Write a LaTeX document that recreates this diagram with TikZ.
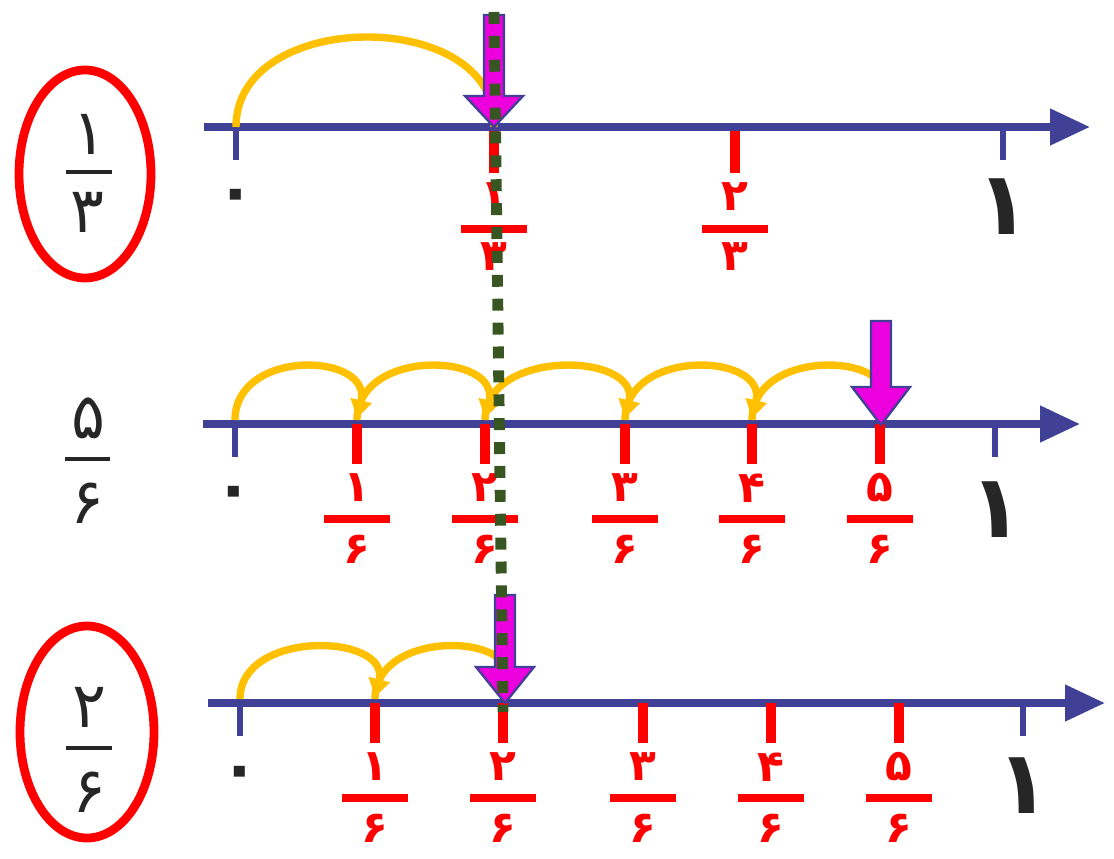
\documentclass[tikz,border=0pt]{standalone}
\usepackage{fontspec}
\newfontfamily\fafont[Script=Arabic]{DejaVu Sans}
\usepackage{tikz}
\usetikzlibrary{arrows.meta}
\definecolor{axisblue}{RGB}{64,64,150}
\definecolor{jumpyellow}{RGB}{255,192,0}
\definecolor{markred}{RGB}{255,0,0}
\definecolor{pointmag}{RGB}{236,0,222}
\definecolor{guidegreen}{RGB}{56,86,34}

\begin{document}
\begin{tikzpicture}[x=0.02cm, y=-0.02cm,
  axis/.style={draw=axisblue, line width=4.4pt, -{Triangle[length=8mm, width=7mm]}},
  endtick/.style={draw=axisblue, line width=3.8pt},
  redtick/.style={draw=markred, line width=6pt},
  fracbar/.style={draw=markred, line width=4pt},
  blackbar/.style={draw=black!85, line width=1.8pt},
  jump/.style={draw=jumpyellow, line width=4.2pt, -{Triangle[length=3.6mm, width=4.2mm]}},
  pointer/.style={fill=pointmag, draw=axisblue, line width=1.3pt},
  ring/.style={draw=markred, line width=5pt},
  guide/.style={draw=guidegreen, line width=6.2pt, dash pattern=on 6.8pt off 6.8pt},
  rednum/.style={text=markred, inner sep=0pt, font=\fafont\bfseries\fontsize{25}{25}\selectfont},
  leftnum/.style={text=black!85, inner sep=0pt, font=\fafont\fontsize{36}{36}\selectfont},
  zeronum/.style={text=black!85, inner sep=0pt, font=\fafont\bfseries\fontsize{36}{36}\selectfont},
  endnum/.style={text=black!85, inner sep=0pt, font=\fafont\bfseries\fontsize{50}{50}\selectfont}]
\useasboundingbox (0,0) rectangle (1114,858);
\def\ya{127}\def\yb{424}\def\yc{703}
% number lines
\draw[axis] (204,\ya) -- (1090,\ya);
\draw[axis] (203,\yb) -- (1080,\yb);
\draw[axis] (208,\yc) -- (1105,\yc);
\foreach \xx/\yy in {236/\ya,1003/\ya,235/\yb,995/\yb,240/\yc,1023/\yc}
  \draw[endtick] (\xx,\yy) -- (\xx,\yy+33);
\node[zeronum] (zero-a) at (236,201) {۰};
\node[zeronum] (zero-b) at (234,498) {۰};
\node[zeronum] (zero-c) at (240,778) {۰};
\node[endnum] (one-a) at (1003,207) {۱};
\node[endnum] (one-b) at (996,510) {۱};
\node[endnum] (one-c) at (1023,786) {۱};
% jumps
\draw[jump, -] (236,\ya) .. controls (236,\ya-120) and (500,\ya-120) .. (494,\ya);
\foreach \xa/\xb in {235/357,357/485,485/625,625/752,752/880}
  \draw[jump] (\xa,\yb-4) .. controls (\xa,\yb-76) and (\xb+16,\yb-72) .. (\xb,\yb-6);
\foreach \xa/\xb in {240/375,375/503}
  \draw[jump] (\xa,\yc-4) .. controls (\xa,\yc-74) and (\xb+16,\yc-70) .. (\xb,\yc-6);
% red marks and fractions
\foreach \xx/\nn/\dd [count=\k] in {494/۱/۳,735/۲/۳} {
  \draw[redtick] (\xx,\ya+4) -- (\xx,\ya+46);
  \node[rednum] (num-a\k) at (\xx,197) {\nn};
  \draw[fracbar] (\xx-33,229) -- (\xx+33,229);
  \node[rednum] (den-a\k) at (\xx,257) {\dd};
}
\foreach \xx/\nn [count=\k] in {357/۱,485/۲,625/۳,752/۴,880/۵} {
  \draw[redtick] (\xx,\yb) -- (\xx,\yb+40);
  \node[rednum] (num-b\k) at (\xx,488) {\nn};
  \draw[fracbar] (\xx-33,519) -- (\xx+33,519);
  \node[rednum] (den-b\k) at (\xx,549) {۶};
}
\foreach \xx/\nn [count=\k] in {375/۱,503/۲,643/۳,771/۴,899/۵} {
  \draw[redtick] (\xx,\yc) -- (\xx,\yc+40);
  \node[rednum] (num-c\k) at (\xx,767) {\nn};
  \draw[fracbar] (\xx-33,798) -- (\xx+33,798);
  \node[rednum] (den-c\k) at (\xx,828) {۶};
}
% fractions on the left
\draw[ring] (85,174) ellipse [x radius=66, y radius=104];
\draw[ring] (87,732) ellipse [x radius=67, y radius=106];
\node[leftnum] (left-a-num) at (89,134) {۱};
\draw[blackbar] (66,172) -- (112,172);
\node[leftnum] (left-a-den) at (87,212) {۳};
\node[leftnum] (left-b-num) at (88,418) {۵};
\draw[blackbar] (65,459) -- (110,459);
\node[leftnum] (left-b-den) at (87,503) {۶};
\node[leftnum] (left-c-num) at (89,707) {۲};
\draw[blackbar] (66,748) -- (112,748);
\node[leftnum] (left-c-den) at (89,792) {۶};
% pointers
\foreach \px/\pt/\ph/\py in {494/15/96/127,881/321/387/425,505/595/667/703}
  \draw[pointer] (\px-10,\pt) -- (\px+10,\pt) -- (\px+10,\ph) -- (\px+29,\ph)
    -- (\px,\py) -- (\px-29,\ph) -- (\px-10,\ph) -- cycle;
\coordinate (guide-top) at (494,12);
\coordinate (guide-end) at (503,712);
\draw[guide] (guide-top) -- (guide-end);
\end{tikzpicture}
\end{document}
